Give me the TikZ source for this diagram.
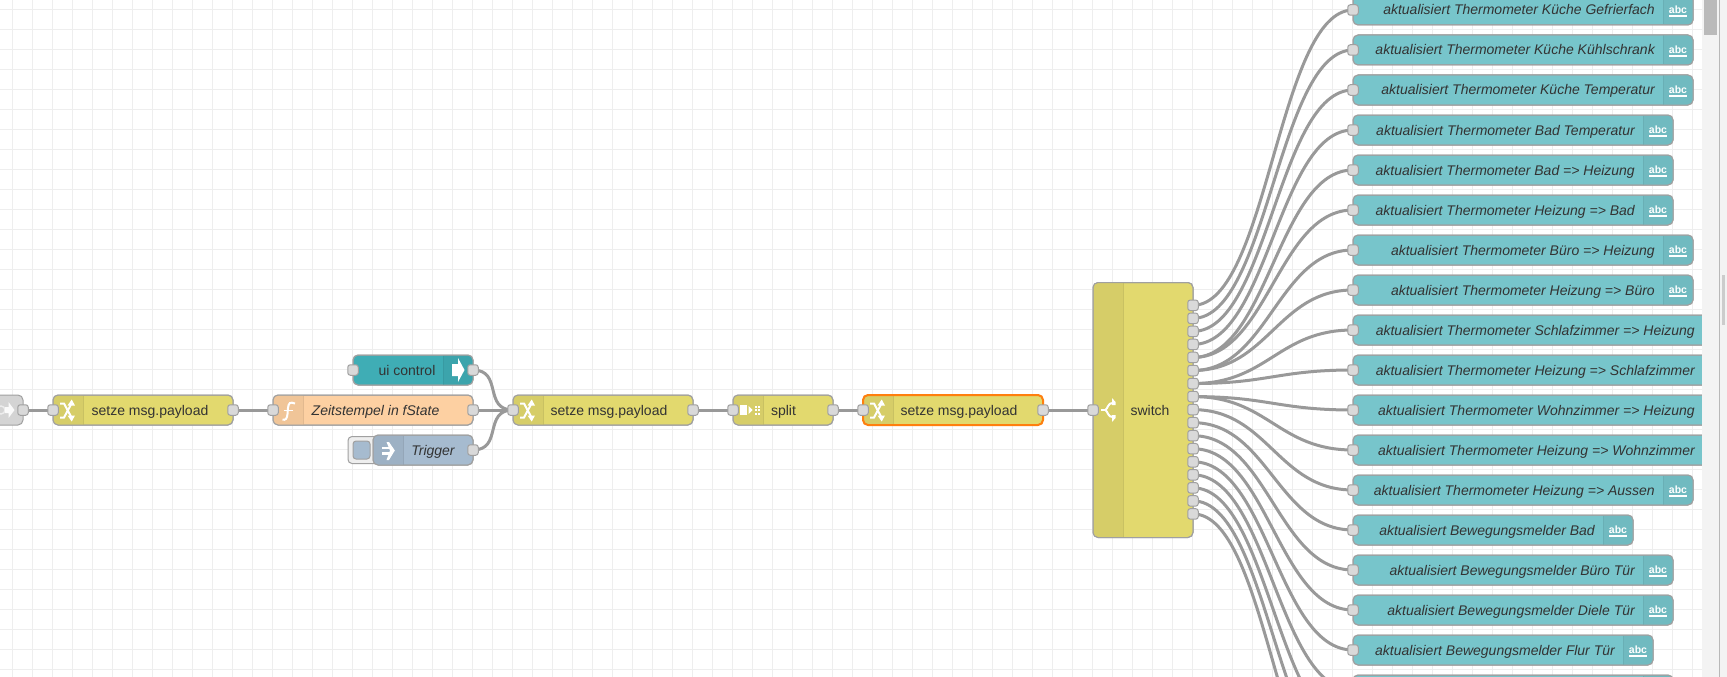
\documentclass[tikz,border=0pt]{standalone}
\usepackage{fontspec}
\setmainfont{Liberation Sans}
\pgfdeclarelayer{gridlayer}
\pgfdeclarelayer{wirelayer}
\pgfsetlayers{gridlayer,wirelayer,main}
\definecolor{gridc}{HTML}{EEEEEE}
\definecolor{wirec}{HTML}{999999}
\definecolor{portc}{HTML}{D9D9D9}
\definecolor{edgec}{HTML}{A0A0A0}
\definecolor{textc}{HTML}{333333}
\definecolor{yel}{HTML}{E2D96E}
\definecolor{yeli}{HTML}{D6CD68}
\definecolor{ora}{HTML}{FDD0A2}
\definecolor{orai}{HTML}{F0C598}
\definecolor{cya}{HTML}{3FADB5}
\definecolor{cyai}{HTML}{3CA4AC}
\definecolor{blu}{HTML}{A6BBCF}
\definecolor{blui}{HTML}{9DB1C4}
\definecolor{tea}{HTML}{77C5CB}
\definecolor{teai}{HTML}{70BAC0}
\definecolor{gry}{HTML}{D4D4D4}
\definecolor{panelc}{HTML}{F3F3F3}
\definecolor{selc}{HTML}{FF7F0E}
\tikzset{
  x=1pt,y=-1pt,
  nodebox/.style={draw=edgec,line width=1pt,rounded corners=5pt,minimum height=30pt,inner sep=0pt,outer sep=0pt},
  portbox/.style={draw=edgec,fill=portc,line width=1pt,rounded corners=2.5pt,minimum width=10.5pt,minimum height=10.5pt,inner sep=0pt,outer sep=0pt},
  wire/.style={draw=wirec,line width=3pt},
  gridline/.style={draw=gridc,line width=1pt},
  lab/.style={text=textc,font=\fontsize{14}{16}\selectfont,inner sep=0pt,anchor=base},
  labi/.style={text=textc,font=\fontsize{14}{16}\selectfont\itshape,inner sep=0pt,anchor=base},
  abclab/.style={text=white,font=\fontsize{10.5}{12}\selectfont\bfseries,inner sep=0pt,anchor=base},
  ico/.style={draw=white,line width=2pt,line cap=butt},
  icof/.style={fill=white,draw=none},
  changeicon/.pic={
    \draw[ico] (-8,-7)--(-4,-7)--(3,6);
    \draw[ico] (-8,7)--(-4,7)--(3,-6);
    \fill[icof] (-0.5,5)--(7,5)--(3.7,11)--cycle;
    \fill[icof] (-0.5,-5)--(7,-5)--(3.7,-11)--cycle;
  }
}
% body of a node with its icon strip: name, left, right, fill, icon fill, strip left, strip right, divider x
\newcommand{\flowbody}[8]{%
  \pgfmathsetmacro{\bw}{#3-(#2)}%
  \pgfmathsetmacro{\bx}{(#3+#2)/2}%
  \node[nodebox,fill=#4,minimum width=\bw pt] (#1) at (\bx,\cy) {};
  \begin{scope}
    \clip (#6,\cy-15) rectangle (#7,\cy+15);
    \node[rounded corners=4.5pt,fill=#5,minimum width=\bw pt-1pt,minimum height=29pt,inner sep=0pt,outer sep=0pt] at (\bx,\cy) {};
  \end{scope}
  \draw[#5!94!black,line width=.8pt] (#8,\cy-14.5)--(#8,\cy+14.5);
  \draw[edgec,line width=1pt,rounded corners=5pt] (#2,\cy-15) rectangle (#3,\cy+15);
}
% status row: name, centre y, right edge, text
\newcommand{\statusrow}[4]{%
  \def\cy{#2}%
  \pgfmathsetmacro{\il}{#3-30}%
  \flowbody{#1}{1353}{#3}{tea}{teai}{\il}{#3}{\il}
  \pgfmathsetmacro{\tr}{#3-38}%
  \pgfmathsetmacro{\ac}{#3-15}%
  \node[labi,anchor=base east] (#1t) at (\tr,#2+5) {#4};
  \node[abclab] (#1a) at (\ac,#2+3.7) {abc};
  \fill[white] (\ac-9,#2+5.2) rectangle (\ac+9,#2+6.9);
  \node[portbox] (#1p) at (1353,#2) {};
}
\begin{document}
\begin{tikzpicture}
\useasboundingbox (0,0) rectangle (1727,677);
\clip (0,0) rectangle (1727,677);
\begin{pgfonlayer}{gridlayer}
  \fill[white] (0,0) rectangle (1727,677);
  \foreach \gx in {0,...,84} \draw[gridline] (12.5+20*\gx,0)--(12.5+20*\gx,677);
  \foreach \gy in {0,...,33} \draw[gridline] (0,9.5+20*\gy)--(1702,9.5+20*\gy);
\end{pgfonlayer}

% left grey node (cut off by the canvas edge)
\def\cy{410}
\node[nodebox,fill=gry,minimum width=100pt] (gr) at (-27,410) {};
\draw[white,opacity=.6,line width=1.4pt] (1,410) circle (4);
\fill[white,opacity=.9] (5,407)--(8.5,407)--(8.5,402)--(14.5,410)--(8.5,418)--(8.5,413)--(5,413)--cycle;
\node[portbox] (grout) at (23,410) {};

% setze 1
\flowbody{ch1}{53}{233}{yel}{yeli}{53}{83}{83}
\pic at (68,410.5) {changeicon};
\node[lab] (ch1t) at (150,415) {setze msg.payload};
\node[portbox] (ch1in) at (53,410) {};
\node[portbox] (ch1out) at (233,410) {};

% function
\flowbody{fn}{273}{473}{ora}{orai}{273}{303}{303}
\draw[white,line width=2pt] (295,403.5) .. controls (290,401.5) and (288.5,403) .. (288,408) -- (287.5,414) .. controls (287,419) and (285.5,420.5) .. (282.5,419.5);
\draw[white,line width=1.5pt] (283.5,410.5)--(293,410.5);
\node[labi] (fnt) at (375.5,415) {Zeitstempel in fState};
\node[portbox] (fnin) at (273,410) {};
\node[portbox] (fnout) at (473,410) {};

% ui control
\def\cy{370}
\flowbody{ui}{353}{473}{cya}{cyai}{443}{473}{443}
\fill[white] (452,364)--(458,364)--(458,358)--(464.5,370)--(458,382)--(458,376)--(452,376)--cycle;
\node[lab] (uit) at (407,375) {ui control};
\node[portbox] (uiin) at (353,370) {};
\node[portbox] (uiout) at (473,370) {};

% trigger
\def\cy{450}
\node[draw=edgec,fill=gridc,line width=1pt,rounded corners=4pt,minimum width=32pt,minimum height=27pt,inner sep=0pt] (trb) at (364,450) {};
\node[draw=edgec,fill=blu,line width=1pt,rounded corners=3pt,minimum width=17pt,minimum height=18pt,inner sep=0pt] (trc) at (361.5,450) {};
\flowbody{tr}{373}{473}{blu}{blui}{373}{403}{403}
\fill[white] (382,446.5) rectangle (389.5,449);
\fill[white] (382,452) rectangle (389.5,454.5);
\fill[white] (386.5,442)--(389,442)--(394.8,450.5)--(389,460)--(386.5,460)--(390,450.5)--cycle;
\node[labi] (trt) at (433,455) {Trigger};
\node[portbox] (trout) at (473,450) {};

% setze 2
\def\cy{410}
\flowbody{ch2}{513}{693}{yel}{yeli}{513}{543}{543}
\pic at (528,410.5) {changeicon};
\node[lab] (ch2t) at (609,415) {setze msg.payload};
\node[portbox] (ch2in) at (513,410) {};
\node[portbox] (ch2out) at (693,410) {};

% split
\flowbody{sp}{733}{833}{yel}{yeli}{733}{763}{763}
\fill[white] (740,405)rectangle(747,415);
\fill[white] (748.5,406)--(752.5,410)--(748.5,414)--cycle;
\foreach \dx in {754.5,757.5} \foreach \dy in {405.5,409,412.5} \fill[white] (\dx,\dy) rectangle +(2,2);
\node[lab] (spt) at (783.5,415) {split};
\node[portbox] (spin) at (733,410) {};
\node[portbox] (spout) at (833,410) {};

% setze 3 (selected)
\flowbody{ch3}{863}{1043}{yel}{yeli}{863}{893}{893}
\draw[selc,line width=2pt,rounded corners=5pt] (863,395)rectangle(1043,425);
\pic at (878,410.5) {changeicon};
\node[lab] (ch3t) at (959,415) {setze msg.payload};
\node[portbox] (ch3in) at (863,410) {};
\node[portbox] (ch3out) at (1043,410) {};

% switch
\node[nodebox,fill=yel,minimum width=100pt,minimum height=255pt] (sw) at (1143,410) {};
\begin{scope}
  \clip (1093,280) rectangle (1123,540);
  \node[rounded corners=4.5pt,fill=yeli,minimum width=99pt,minimum height=254pt,inner sep=0pt,outer sep=0pt] at (1143,410) {};
\end{scope}
\draw[yeli!94!black,line width=.8pt] (1123,283)--(1123,537);
\draw[edgec,line width=1pt,rounded corners=5pt] (1093,282.5) rectangle (1193,537.5);
\draw[ico] (1101,410)--(1106,410);
\draw[ico] (1105.5,410) .. controls (1108,408) and (1108,403) .. (1112.5,403);
\draw[ico] (1105.5,410) .. controls (1108,412) and (1108,417) .. (1112.5,417);
\fill[icof] (1112,398)--(1115.5,402)--(1115.5,405)--(1112,405)--cycle;
\fill[icof] (1112,422)--(1115.5,418)--(1115.5,415)--(1112,415)--cycle;
\node[lab] (swt) at (1150,415) {switch};
\node[portbox] (swin) at (1093,410) {};
\foreach \k in {0,...,16} {
  \node[portbox] (sw\k) at (1193,305.3+13.04*\k) {};
}

% status rows
\statusrow{ra}{10}{1693}{aktualisiert Thermometer Küche Gefrierfach}
\statusrow{rb}{50}{1693}{aktualisiert Thermometer Küche Kühlschrank}
\statusrow{rc}{90}{1693}{aktualisiert Thermometer Küche Temperatur}
\statusrow{rd}{130}{1673}{aktualisiert Thermometer Bad Temperatur}
\statusrow{re}{170}{1673}{aktualisiert Thermometer Bad => Heizung}
\statusrow{rf}{210}{1673}{aktualisiert Thermometer Heizung => Bad}
\statusrow{rg}{250}{1693}{aktualisiert Thermometer Büro => Heizung}
\statusrow{rh}{290}{1693}{aktualisiert Thermometer Heizung => Büro}
\statusrow{ri}{330}{1733}{aktualisiert Thermometer Schlafzimmer => Heizung}
\statusrow{rj}{370}{1733}{aktualisiert Thermometer Heizung => Schlafzimmer}
\statusrow{rk}{410}{1733}{aktualisiert Thermometer Wohnzimmer => Heizung}
\statusrow{rl}{450}{1733}{aktualisiert Thermometer Heizung => Wohnzimmer}
\statusrow{rm}{490}{1693}{aktualisiert Thermometer Heizung => Aussen}
\statusrow{rn}{530}{1633}{aktualisiert Bewegungsmelder Bad}
\statusrow{ro}{570}{1673}{aktualisiert Bewegungsmelder Büro Tür}
\statusrow{rp}{610}{1673}{aktualisiert Bewegungsmelder Diele Tür}
\statusrow{rq}{650}{1653}{aktualisiert Bewegungsmelder Flur Tür}
\def\cy{690}
\flowbody{rr}{1353}{1673}{tea}{teai}{1643}{1673}{1643}
\node[portbox] (rrp) at (1353,690) {};
\coordinate (rs) at (1353,730);
\coordinate (rt) at (1353,770);
\coordinate (ru) at (1353,810);

% wires
\begin{pgfonlayer}{wirelayer}
  \draw[wire] (grout.center)--(ch1in.center);
  \draw[wire] (ch1out.center)--(fnin.center);
  \draw[wire] (fnout.center)--(ch2in.center);
  \draw[wire] (uiout.center) .. controls +(30,0) and +(-30,0) .. (ch2in.center);
  \draw[wire] (trout.center) .. controls +(30,0) and +(-30,0) .. (ch2in.center);
  \draw[wire] (ch2out.center)--(spin.center);
  \draw[wire] (spout.center)--(ch3in.center);
  \draw[wire] (ch3out.center)--(swin.center);
  \foreach \p/\r in {0/ra,1/rb,2/rc,3/rd,4/re,4/rf,5/rg,5/rh,6/ri,6/rj,7/rk,7/rl,8/rm,9/rn,10/ro,11/rp,12/rq,13/rr} {
    \draw[wire] (sw\p.center) .. controls +(75,0) and +(-75,0) .. (\r p.center);
  }
  \foreach \p/\r in {14/rs,15/rt,16/ru} {
    \draw[wire] (sw\p.center) .. controls +(75,0) and +(-75,0) .. (\r);
  }
\end{pgfonlayer}

% side panel and scroll bars
\fill[panelc] (1702,0) rectangle (1727,677);
\draw[black!28,line width=1pt] (1719.5,0)--(1719.5,677);
\fill[black!27] (1704,0) rectangle (1717,35);
\fill[black!20] (1722,275) rectangle (1725,325);
\end{tikzpicture}
\end{document}
